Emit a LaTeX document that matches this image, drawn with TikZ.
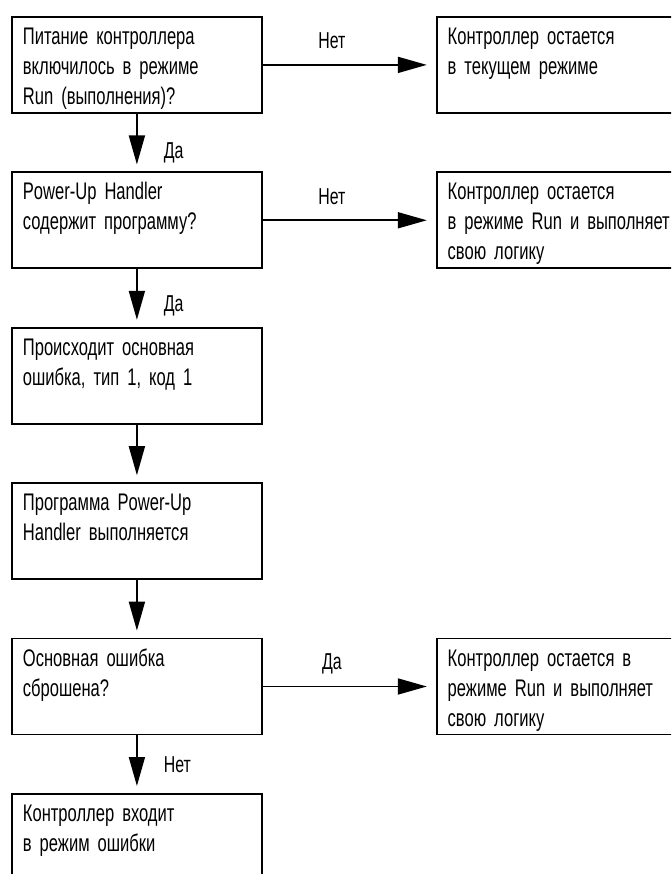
\documentclass[tikz,border=0pt]{standalone}
\usepackage{fontspec}
\setmainfont[FakeStretch=0.69]{Liberation Sans}
\usetikzlibrary{arrows.meta,positioning}
\newcommand{\stepfont}{\fontsize{24}{30}\selectfont
  \spaceskip=5pt plus 1pt minus 1pt\relax}

\begin{document}
\begin{tikzpicture}[x=1pt, y=-1pt,
    box/.style={draw, line width=1.8pt, inner xsep=11pt, inner ysep=0pt,
      text width=228pt, align=left, text height=27.5pt, text depth=68.5pt,
      font=\stepfont},
    outcome/.style={box, text width=240pt},
    flow/.style={-{Triangle[length=29pt,width=16pt]}, line width=1.8pt},
    lbl/.style={inner sep=0pt, font=\fontsize{23}{26}\selectfont},
    node distance=57.6pt and 173pt]

  \useasboundingbox (0,0) rectangle (671,874);
  \clip (0,0) rectangle (671,874);

  % Main column
  \node[box, anchor=north west] (powerup) at (11,16)
    {Питание контроллера\\включилось в режиме\\Run (выполнения)?};
  \node[box, below=of powerup] (handler)
    {Power-Up Handler\\содержит программу?};
  \node[box, below=of handler] (majorfault)
    {Происходит основная\\ошибка, тип 1, код 1};
  \node[box, below=of majorfault] (runhandler)
    {Программа Power-Up\\Handler выполняется};
  \node[box, below=of runhandler] (cleared)
    {Основная ошибка\\сброшена?};
  \node[box, below=of cleared] (faultmode)
    {Контроллер входит\\в режим ошибки};

  % Outcomes on the right (cut by the page edge)
  \node[outcome, right=of powerup] (staymode)
    {Контроллер остается\\в текущем режиме};
  \node[outcome, right=of handler] (staylogic)
    {Контроллер остается\\в режиме Run и выполняет\\свою логику};
  \node[outcome, right=of cleared] (resume)
    {Контроллер остается в\\режиме Run и выполняет\\свою логику};

  % Vertical flow
  \draw[flow, shorten >=7pt] (powerup) -- (handler)
    node[lbl, pos=0.68, right=26pt] {Да};
  \draw[flow, shorten >=7pt] (handler) -- (majorfault)
    node[lbl, pos=0.64, right=26pt] {Да};
  \draw[flow, shorten >=7pt] (majorfault) -- (runhandler);
  \draw[flow, shorten >=7pt] (runhandler) -- (cleared);
  \draw[flow, shorten >=7pt] (cleared) -- (faultmode)
    node[lbl, pos=0.5, right=26pt] {Нет};

  % Side branches
  \draw[flow, shorten >=9pt] (powerup) -- (staymode)
    node[lbl, pos=0.4, above=15pt] {Нет};
  \draw[flow, shorten >=9pt] (handler) -- (staylogic)
    node[lbl, pos=0.4, above=15pt] {Нет};
  \draw[flow, shorten >=9pt] (cleared) -- (resume)
    node[lbl, pos=0.4, above=12pt] {Да};

\end{tikzpicture}
\end{document}
